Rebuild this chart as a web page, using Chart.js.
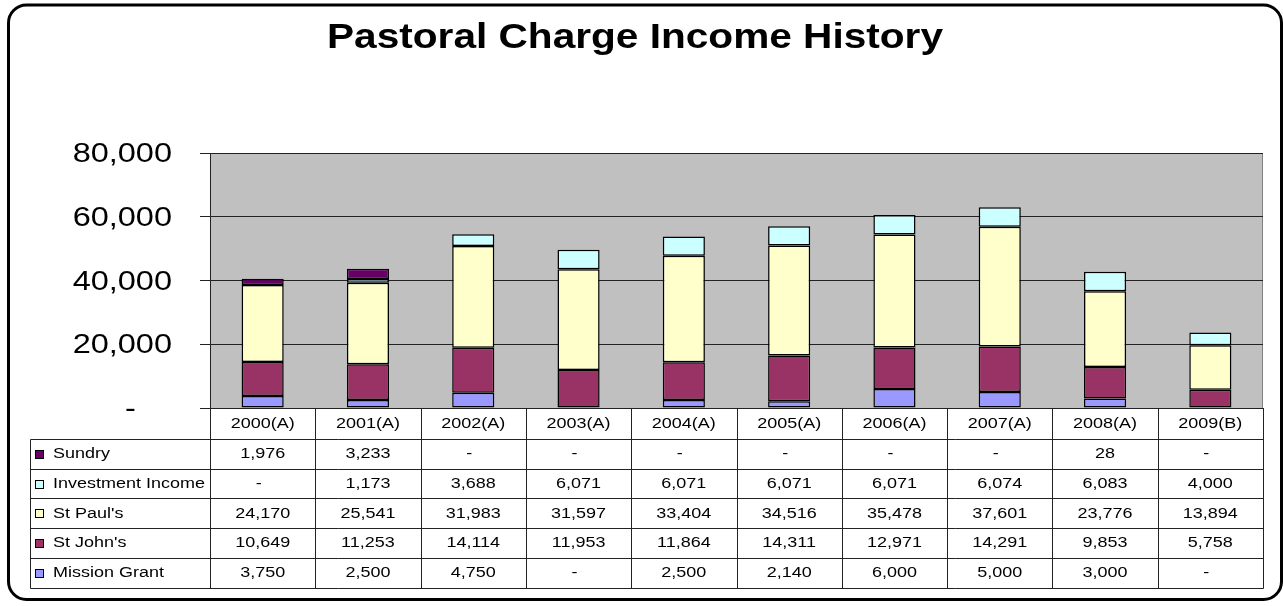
<!DOCTYPE html>
<html>
<head>
<meta charset="utf-8">
<title>Pastoral Charge Income History</title>
<script src="https://cdn.jsdelivr.net/npm/chart.js@4.4.1/dist/chart.umd.min.js"></script>
<style>
  html, body { margin: 0; padding: 0; background: #fff; }
  #wrap { width: 1283px; height: 606px; }
</style>
</head>
<body>
<div id="wrap"><canvas id="incomeChart" width="1283" height="606"></canvas></div>
<script>
const years = ["2000(A)", "2001(A)", "2002(A)", "2003(A)", "2004(A)", "2005(A)", "2006(A)", "2007(A)", "2008(A)", "2009(B)"];
const missionGrant = [3750, 2500, 4750, 0, 2500, 2140, 6000, 5000, 3000, 0];
const stJohns = [10649, 11253, 14114, 11953, 11864, 14311, 12971, 14291, 9853, 5758];
const stPauls = [24170, 25541, 31983, 31597, 33404, 34516, 35478, 37601, 23776, 13894];
const investmentIncome = [0, 1173, 3688, 6071, 6071, 6071, 6071, 6074, 6083, 4000];
const sundry = [1976, 3233, 0, 0, 0, 0, 0, 0, 28, 0];
const yMax = 80000;
const yStep = 20000;

const FONT = '"Liberation Sans", Arial, sans-serif';
const STRETCH = 1.16; // the original text is drawn a bit wide

function fmt(v) {
  return v === 0 ? "-" : v.toLocaleString("en-US");
}

// draw text stretched horizontally, like the Excel picture
function wideText(ctx, text, x, y, align, font, baseline) {
  ctx.save();
  ctx.font = font;
  ctx.fillStyle = "#000";
  ctx.textBaseline = baseline || "middle";
  ctx.textAlign = "left";
  const w = ctx.measureText(text).width * STRETCH;
  let left = x;
  if (align === "center") left = x - w / 2;
  if (align === "right") left = x - w;
  ctx.translate(left, y);
  ctx.scale(STRETCH, 1);
  ctx.fillText(text, 0, 0);
  ctx.restore();
}

const framePlugin = {
  id: "frame",
  beforeDraw(chart) {
    const ctx = chart.ctx;
    const a = chart.chartArea;
    ctx.save();
    ctx.fillStyle = "#fff";
    ctx.fillRect(0, 0, chart.width, chart.height);
    // outer rounded border
    ctx.beginPath();
    ctx.roundRect(8.5, 5, 1273, 594.5, 18);
    ctx.lineWidth = 3;
    ctx.strokeStyle = "#000";
    ctx.stroke();
    // grey plot area
    ctx.fillStyle = "#c0c0c0";
    ctx.fillRect(a.left, a.top, a.right - a.left, a.bottom - a.top);
    ctx.strokeStyle = "#808080";
    ctx.lineWidth = 1;
    ctx.strokeRect(a.left + 0.5, a.top + 0.5, a.right - a.left - 1, a.bottom - a.top);
    ctx.restore();
  },
  afterDraw(chart) {
    const ctx = chart.ctx;
    const xs = chart.scales.x;
    const ys = chart.scales.y;

    // title
    wideText(ctx, "Pastoral Charge Income History", 635, 48, "center", "bold 35px " + FONT, "alphabetic");

    // y tick labels
    const tickFont = "28px " + FONT;
    ctx.font = tickFont;
    const digitW = ctx.measureText("0").width * STRETCH;
    ys.ticks.forEach(t => {
      const y = ys.getPixelForValue(t.value) + 1.5;
      if (t.value === 0) {
        wideText(ctx, "-", 172 - 2 * digitW, y, "right", tickFont);
      } else {
        wideText(ctx, fmt(t.value), 172, y, "right", tickFont);
      }
    });

    // data table
    const n = years.length;
    const colW = (xs.right - xs.left) / n;
    const top = chart.chartArea.bottom;
    const headerH = 31;
    const rowH = 29.7;
    const legendLeft = 30;
    const rows = chart.data.datasets.slice().reverse();
    const bottom = top + headerH + rows.length * rowH;
    const px = v => Math.round(v) + 0.5;

    ctx.save();
    ctx.strokeStyle = "#222";
    ctx.lineWidth = 1;
    ctx.beginPath();
    for (let i = 0; i <= n; i++) {
      const x = px(xs.left + i * colW);
      ctx.moveTo(x, top);
      ctx.lineTo(x, px(bottom));
    }
    ctx.moveTo(px(legendLeft), px(top + headerH));
    ctx.lineTo(px(legendLeft), px(bottom));
    for (let k = 0; k <= rows.length; k++) {
      const y = px(top + headerH + k * rowH);
      ctx.moveTo(px(legendLeft), y);
      ctx.lineTo(px(xs.right), y);
    }
    ctx.stroke();
    ctx.restore();

    const cellFont = "15.5px " + FONT;
    years.forEach((yr, i) => {
      wideText(ctx, yr, xs.getPixelForValue(i), top + headerH / 2, "center", cellFont);
    });

    rows.forEach((ds, r) => {
      const cy = top + headerH + r * rowH + rowH / 2;
      const sy = Math.round(cy) - 3.5;
      ctx.save();
      ctx.fillStyle = ds.backgroundColor;
      ctx.fillRect(35.5, sy, 8, 8);
      ctx.strokeStyle = "#000";
      ctx.lineWidth = 1;
      ctx.strokeRect(35.5, sy, 8, 8);
      ctx.restore();
      wideText(ctx, ds.label, 53, cy, "left", cellFont);
      ds.data.forEach((v, i) => {
        const cx = xs.getPixelForValue(i) + (v === 0 ? -4 : 0);
        wideText(ctx, fmt(v), cx, cy, "center", cellFont);
      });
    });
  }
};

function series(label, data, color) {
  return {
    label: label,
    data: data,
    backgroundColor: color,
    borderColor: "#000",
    borderWidth: 1.5,
    borderSkipped: false,
    barPercentage: 0.4,
    categoryPercentage: 1.0
  };
}

const ctx = document.getElementById("incomeChart");
new Chart(ctx, {
  type: "bar",
  data: {
    labels: years,
    datasets: [
      series("Mission Grant", missionGrant, "#9999ff"),
      series("St John's", stJohns, "#993366"),
      series("St Paul's", stPauls, "#ffffcc"),
      series("Investment Income", investmentIncome, "#ccffff"),
      series("Sundry", sundry, "#660066")
    ]
  },
  options: {
    responsive: false,
    animation: false,
    devicePixelRatio: 1,
    layout: { padding: { left: 10, right: 20, top: 153, bottom: 0 } },
    plugins: {
      legend: { display: false },
      title: { display: false },
      tooltip: { enabled: false }
    },
    scales: {
      x: {
        stacked: true,
        grid: { display: false },
        border: { display: false },
        ticks: { display: false },
        afterFit: scale => { scale.height = 198; }
      },
      y: {
        stacked: true,
        min: 0,
        max: yMax,
        ticks: { stepSize: yStep, display: false },
        grid: { color: "#222", lineWidth: 1, tickLength: 10, drawTicks: true },
        border: { display: true, color: "#222" },
        afterFit: scale => { scale.width = 200; }
      }
    }
  },
  plugins: [framePlugin]
});
</script>
</body>
</html>
